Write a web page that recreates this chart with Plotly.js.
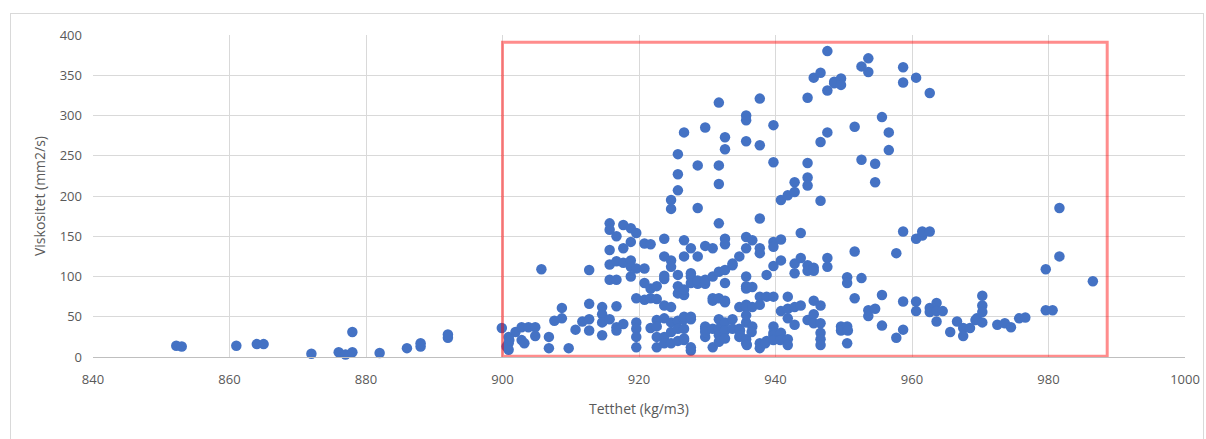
<!DOCTYPE html>
<html>
<head>
<meta charset="utf-8">
<script src="https://cdn.plot.ly/plotly-3.0.1.min.js"></script>
<style>
html,body{margin:0;padding:0;background:#fff;}
#frame{position:absolute;left:10px;top:13px;width:1194px;height:440px;border:1px solid #D9D9D9;box-sizing:border-box;}
#chart{position:absolute;left:0;top:0;width:1206px;height:439px;}
</style>
</head>
<body>
<div id="frame"></div>
<div id="chart"></div>
<script>
// Density (kg/m3) and viscosity (mm2/s) pairs
const tetthet = [
852.2,853,861,864,865,872,876,877,878,878,882,886,888,888,892,892,
899.9,900.9,900.9,900.9,900.6,901,901.9,902.8,902.8,903.2,903.8,904.8,904.8,905.7,906.8,906.8,907.6,908.7,908.7,909.7,910.7,911.7,
912.7,912.7,912.7,912.7,914.6,914.6,914.6,914.6,
915.7,915.7,915.7,915.7,915.7,915.7,
916.7,916.7,916.7,916.7,916.7,916.7,
917.7,917.7,917.7,917.7,
918.8,918.8,918.8,918.8,918.8,
919.6,919.6,919.6,919.6,919.6,919.6,919.6,
920.8,920.8,920.8,920.8,
921.7,921.7,921.7,921.7,
922.6,922.6,922.6,922.6,922.6,922.6,
923.7,923.7,923.7,923.7,923.7,923.7,923.7,923.7,
924.7,924.7,924.7,924.7,924.7,924.7,924.7,924.7,
925.7,925.7,925.7,925.7,925.7,925.7,925.7,925.7,925.7,
926.6,926.6,926.6,926.6,926.6,926.6,926.6,926.6,926.6,926.6,
927.6,927.6,927.6,927.6,927.6,927.6,927.6,927.6,
928.6,928.6,928.6,928.6,928.6,
929.7,929.7,929.7,929.7,929.7,929.7,929.7,929.7,
930.8,930.8,930.8,930.8,930.8,930.8,
931.7,931.7,931.7,931.7,931.7,931.7,931.7,931.7,931.7,931.7,
932.6,932.6,932.6,932.6,932.6,932.6,932.6,932.6,932.6,932.6,932.6,
933.7,933.7,933.7,933.7,
934.7,934.7,934.7,934.7,934.8,934.8,
935.7,935.7,935.7,935.7,935.7,935.7,935.7,935.7,935.7,935.7,935.7,935.7,935.7,935.7,935.8,
936.6,936.6,936.6,936.6,936.5,
937.7,937.7,937.7,937.7,937.7,937.7,937.7,937.7,937.7,
938.7,938.7,938.7,938.5,
939.7,939.7,939.7,939.7,939.7,939.7,939.7,939.7,939.7,939.7,
940.8,940.8,940.8,940.8,940.8,940.7,
941.8,941.8,941.8,941.8,941.8,941.8,
942.8,942.8,942.8,942.8,942.8,942.8,
943.7,943.7,943.7,
944.7,944.7,944.7,944.7,944.7,944.7,944.7,
945.6,945.6,945.6,945.6,945.6,945.6,
946.6,946.6,946.6,946.6,946.6,946.6,946.6,946.6,
947.6,947.6,947.6,947.6,947.6,
948.6,948.6,
949.6,949.6,949.6,949.6,
950.5,950.5,950.5,950.5,950.6,
951.6,951.6,951.6,
952.6,952.6,952.6,
953.6,953.6,953.6,953.6,
954.6,954.6,954.6,
955.6,955.6,955.6,
956.6,956.6,
957.7,957.7,
958.7,958.7,958.7,958.7,958.7,
960.6,960.6,960.6,960.6,
961.5,961.5,
962.6,962.6,962.6,962.6,
963.6,963.6,963.6,
964.5,965.6,966.6,967.5,967.5,968.5,969.5,969.3,
970.3,970.3,970.3,970.3,
972.5,973.6,974.5,975.7,976.6,
979.6,979.6,980.6,981.6,981.6,986.5
];
const viskositet = [
14,13,14,16,16,4,6,3,6,31,5,11,13,17,24,28,
36,25,17,9,13,21,31,37,21,17,37,37,26,109,25,11,45,61,48,11,34,44,
108,66,47,33,62,53,43,27,
166,158,133,115,96,47,
150,119,96,63,37,33,
164,135,117,41,
160,143,120,112,100,
154,110,73,43,35,25,12,
141,110,92,71,
140,85,73,36,
88,72,46,25,12,38,
147,125,97,64,101,25,48,17,
195,184,120,112,62,43,31,17,
252,227,207,102,79,88,45,35,20,
279,145,125,77,47,35,21,84,50,23,
135,100,92,47,8,104,50,12,
238,185,125,91,95,
285,138,91,35,25,96,38,31,
135,100,73,12,35,70,
316,238,215,166,106,73,47,35,27,19,
273,258,147,140,108,68,92,43,33,23,70,
114,47,35,116,
125,62,35,25,33,27,
300,294,268,135,100,88,65,43,17,149,85,62,52,22,15,
145,87,62,38,31,
321,263,172,135,129,75,65,17,11,
102,75,20,17,
288,242,143,137,113,75,38,30,27,21,
195,146,120,57,30,21,
201,75,60,48,22,15,
217,205,116,104,62,40,
154,123,64,
322,241,223,213,114,107,46,
347,111,107,70,53,42,
353,267,194,64,42,30,22,15,
380,331,279,123,112,
342,340,
346,338,38,33,
38,17,99,92,33,
286,131,73,
361,245,98,
371,354,58,51,
240,217,60,
298,77,39,
279,257,
129,24,
360,341,156,69,34,
347,147,69,57,
151,156,
328,156,61,56,
67,57,44,
57,31,44,36,26,36,48,46,
76,64,56,43,
40,42,37,48,49,
109,58,58,185,125,94
];
const xTicks = [840,860,880,900,920,940,960,980,1000];
const yTicks = [0,50,100,150,200,250,300,350,400];
const xTitle = 'Tetthet (kg/m3)';
const yTitle = 'Viskositet (mm2/s)';
// highlighted region (data units)
const boxX = [900, 988.6];
const boxY = [1, 391];

const trace = {
  type: 'scatter', mode: 'markers',
  x: tetthet, y: viskositet,
  marker: {color: '#4472C4', size: 10.5, line: {width: 0}},
  cliponaxis: false, hoverinfo: 'x+y'
};
const font = {family: 'Open Sans, Liberation Sans, sans-serif', color: '#595959', size: 13};
const layout = {
  width: 1206, height: 439,
  margin: {l: 93, r: 21, t: 35, b: 82},
  paper_bgcolor: 'rgba(0,0,0,0)', plot_bgcolor: '#fff',
  showlegend: false,
  font: font,
  xaxis: {
    range: [840, 1000], tickvals: xTicks, ticktext: xTicks.map(String),
    showgrid: true, gridcolor: '#D9D9D9', gridwidth: 1,
    zeroline: false, showline: true, linecolor: '#BFBFBF', linewidth: 1,
    ticks: '', ticklabelstandoff: 10, tickfont: {size: 13, color: '#595959'},
    title: {text: xTitle, standoff: 17, font: {size: 14, color: '#595959'}},
    automargin: false, fixedrange: true
  },
  yaxis: {
    range: [0, 400], tickvals: yTicks, ticktext: yTicks.map(String),
    showgrid: true, gridcolor: '#D9D9D9', gridwidth: 1,
    zeroline: false, showline: false,
    ticks: '', ticklabelstandoff: 10, tickfont: {size: 13, color: '#595959'},
    title: {text: yTitle, standoff: 10, font: {size: 14, color: '#595959'}},
    automargin: false, fixedrange: true
  },
  shapes: [{
    type: 'rect', xref: 'x', yref: 'y',
    x0: boxX[0], x1: boxX[1], y0: boxY[0], y1: boxY[1],
    line: {color: 'rgba(255,0,0,0.45)', width: 3}, fillcolor: 'rgba(0,0,0,0)',
    layer: 'above'
  }]
};
Plotly.newPlot('chart', [trace], layout, {displayModeBar: false, staticPlot: true});
</script>
</body>
</html>
